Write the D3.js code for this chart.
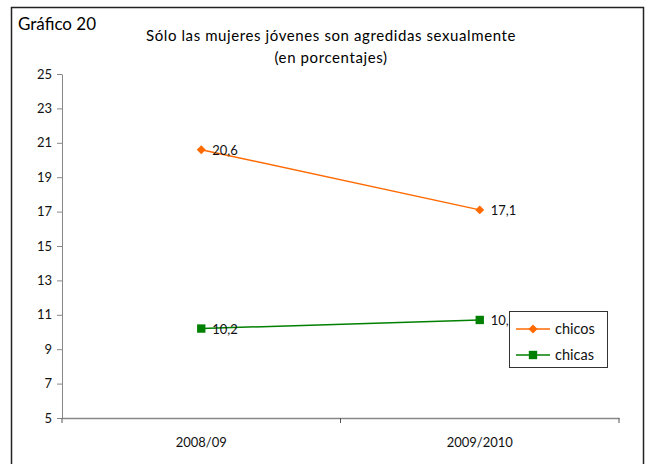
<!DOCTYPE html>
<html>
<head>
<meta charset="utf-8">
<script src="https://cdn.jsdelivr.net/npm/d3@7"></script>
<style>
  body { margin: 0; background: #fff; }
  text { font-family: Lato, "Open Sans", sans-serif; }
</style>
</head>
<body>
<svg id="chart" width="655" height="464"></svg>
<script>
// data
const years = ["2008/09", "2009/2010"];
const chicos = [20.6, 17.1];
const chicas = [10.2, 10.7];
const yTicks = [5, 7, 9, 11, 13, 15, 17, 19, 21, 23, 25];

const svg = d3.select("#chart");
const fmt = v => String(v).replace(".", ",");

// frame
svg.append("rect")
  .attr("x", 11.5).attr("y", 7.5)
  .attr("width", 632).attr("height", 470)
  .attr("fill", "none").attr("stroke", "#222").attr("stroke-width", 1.5);

svg.append("text").attr("x", 18).attr("y", 30)
  .style("font-size", "17px").text("Gráfico 20");

svg.append("text").attr("x", 331).attr("y", 41).attr("text-anchor", "middle")
  .style("font-size", "15px").style("letter-spacing", "0.6px")
  .text("Sólo las mujeres jóvenes son agredidas sexualmente");
svg.append("text").attr("x", 331).attr("y", 63).attr("text-anchor", "middle")
  .style("font-size", "15px").style("letter-spacing", "0.6px")
  .text("(en porcentajes)");

const x = d3.scaleBand().domain(years).range([62, 619]);
const y = d3.scaleLinear().domain([5, 25]).range([418, 74]);
const cx = d => x(d) + x.bandwidth() / 2;

// y axis
const yAxis = svg.append("g").attr("transform", "translate(62,0)")
  .call(d3.axisLeft(y).tickValues(yTicks).tickSize(5).tickSizeOuter(0));
yAxis.select(".domain").attr("stroke", "#888");
yAxis.selectAll(".tick line").attr("stroke", "#888");
yAxis.selectAll(".tick text").attr("x", -10)
  .style("font-size", "13px").style("font-family", "Lato, sans-serif").attr("fill", "#111");

// x axis
const xAxis = svg.append("g").attr("transform", "translate(0,418)")
  .call(d3.axisBottom(x).tickSize(0).tickSizeOuter(0));
xAxis.select(".domain").attr("stroke", "#888").attr("stroke-width", 1.5);
xAxis.selectAll(".tick text").attr("y", 20)
  .style("font-size", "13px").style("font-family", "Lato, sans-serif").attr("fill", "#111");
// category separators
svg.append("g").selectAll("line")
  .data([62, x(years[1]), 619])
  .join("line")
  .attr("x1", d => d).attr("x2", d => d)
  .attr("y1", 418).attr("y2", 423)
  .attr("stroke", "#555");

const series = [
  { name: "chicos", values: chicos, color: "#ff6a00", rot: 45, size: 40 },
  { name: "chicas", values: chicas, color: "#008000", rot: 0, size: 70 }
];
const marker = s => d3.symbol().type(d3.symbolSquare).size(s.size);

const line = d3.line().x((d, i) => cx(years[i])).y(d => y(d));

series.forEach(s => {
  svg.append("path").datum(s.values)
    .attr("d", line).attr("fill", "none")
    .attr("stroke", s.color).attr("stroke-width", 1.5);
  svg.append("g").selectAll("path")
    .data(s.values).join("path")
    .attr("transform", (d, i) => `translate(${cx(years[i])},${y(d)}) rotate(${s.rot})`)
    .attr("d", marker(s))
    .attr("fill", s.color);
  svg.append("g").selectAll("text")
    .data(s.values).join("text")
    .attr("x", (d, i) => cx(years[i]) + 11)
    .attr("y", d => y(d) + 5)
    .style("font-size", "13px").attr("fill", "#111")
    .text(d => fmt(d));
});

// legend
const lg = svg.append("g").attr("transform", "translate(509,311)");
lg.append("rect").attr("x", 0.5).attr("y", 0.5).attr("width", 98).attr("height", 56)
  .attr("fill", "#fff").attr("stroke", "#333");
series.forEach((s, i) => {
  const ly = 18 + i * 26;
  lg.append("line").attr("x1", 7).attr("x2", 41).attr("y1", ly).attr("y2", ly)
    .attr("stroke", s.color).attr("stroke-width", 1.5);
  lg.append("path").attr("transform", `translate(24,${ly}) rotate(${s.rot})`)
    .attr("d", marker(s))
    .attr("fill", s.color);
  lg.append("text").attr("x", 46).attr("y", ly + 5)
    .style("font-size", "14.5px").attr("fill", "#111").text(s.name);
});
</script>
</body>
</html>
